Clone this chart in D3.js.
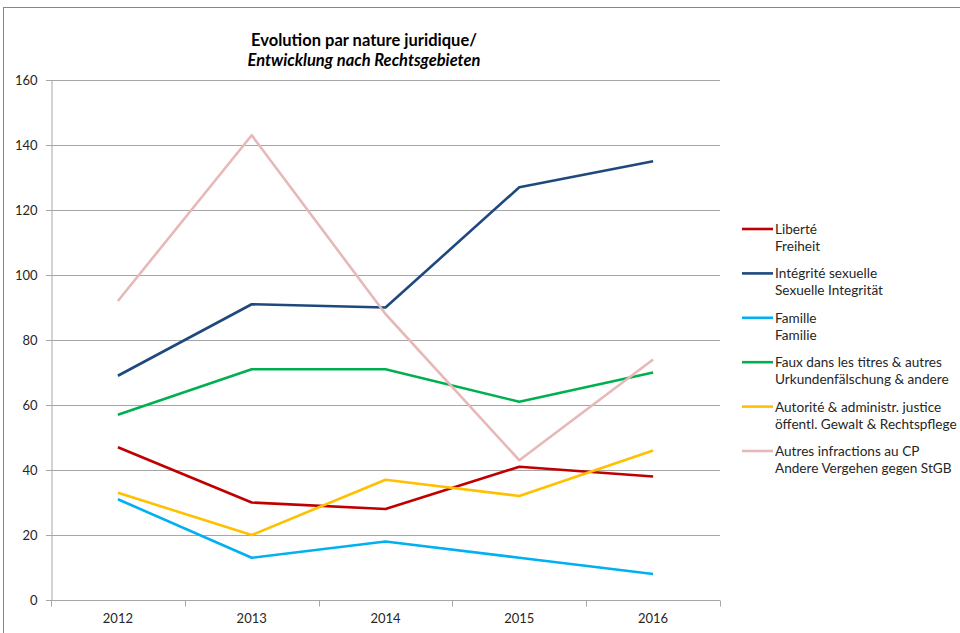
<!DOCTYPE html>
<html>
<head>
<meta charset="utf-8">
<script src="https://cdn.jsdelivr.net/npm/d3@7"></script>
<style>
  body { margin: 0; background: #fff; }
  text { font-family: Lato, "Open Sans", sans-serif; fill: #000; }
</style>
</head>
<body>
<svg class="chart"></svg>
<script>
// Data.
var years = ["2012", "2013", "2014", "2015", "2016"];
var yTicks = [0, 20, 40, 60, 80, 100, 120, 140, 160];

var liberte = [47, 30, 28, 41, 38];
var integrite = [69, 91, 90, 127, 135];
var famille = [31, 13, 18, 13, 8];
var faux = [57, 71, 71, 61, 70];
var autorite = [33, 20, 37, 32, 46];
var autres = [92, 143, 88, 43, 74];

var seriesNames = [
    ["Liberté", "Freiheit"],
    ["Intégrité sexuelle", "Sexuelle Integrität"],
    ["Famille", "Familie"],
    ["Faux dans les titres & autres", "Urkundenfälschung & andere"],
    ["Autorité & administr. justice", "öffentl. Gewalt & Rechtspflege"],
    ["Autres infractions au CP", "Andere Vergehen gegen StGB"]
];
var seriesColors = ["#C00000", "#1F497D", "#00B0F0", "#00B050", "#FFC000", "#E6B9B8"];
var seriesValues = [liberte, integrite, famille, faux, autorite, autres];

var width = 960, height = 633;
var plot = { left: 51, right: 720, top: 80, bottom: 600 };

var svg = d3.select("svg.chart")
    .attr("width", width)
    .attr("height", height);

// outer chart frame
svg.append("rect")
    .attr("x", 3.5).attr("y", 7.5)
    .attr("width", width).attr("height", height)
    .attr("fill", "none")
    .attr("stroke", "#868686");

var x = d3.scaleBand().domain(years).range([plot.left, plot.right]);
var y = d3.scaleLinear().domain([0, 160]).range([plot.bottom, plot.top]);

// gridlines
svg.append("g")
    .selectAll("line")
    .data(yTicks)
    .join("line")
    .attr("x1", plot.left - 5)
    .attr("x2", plot.right)
    .attr("y1", d => Math.round(y(d)) + 0.5)
    .attr("y2", d => Math.round(y(d)) + 0.5)
    .attr("stroke", "#A6A6A6");

// y axis
var yAxis = svg.append("g")
    .attr("transform", "translate(" + (plot.left + 0.5) + ",0)")
    .call(d3.axisLeft(y).tickValues(yTicks).tickSize(5).tickPadding(9));
yAxis.select(".domain").attr("stroke", "#A6A6A6");
yAxis.selectAll(".tick line").attr("stroke", "#A6A6A6");
yAxis.selectAll("text")
    .style("font-size", "13px")
    .style("fill", "#262626")
    .style("font-family", "Lato, sans-serif");

// x axis with category boundary ticks
var xAxis = svg.append("g")
    .attr("transform", "translate(0," + (plot.bottom + 0.5) + ")");
xAxis.append("line")
    .attr("x1", plot.left).attr("x2", plot.right)
    .attr("stroke", "#A6A6A6");
var bounds = years.map(d => x(d)).concat([x(years[years.length - 1]) + x.bandwidth()]);
xAxis.selectAll("line.bound")
    .data(bounds)
    .join("line")
    .attr("class", "bound")
    .attr("x1", d => Math.round(d) + 0.5)
    .attr("x2", d => Math.round(d) + 0.5)
    .attr("y1", 0).attr("y2", 6)
    .attr("stroke", "#A6A6A6");
xAxis.selectAll("text")
    .data(years)
    .join("text")
    .attr("x", d => x(d) + x.bandwidth() / 2)
    .attr("y", 22)
    .attr("text-anchor", "middle")
    .style("font-size", "13px")
    .style("fill", "#262626")
    .text(d => d);

// lines
var line = d3.line()
    .x((d, i) => x(years[i]) + x.bandwidth() / 2)
    .y(d => y(d));

svg.append("g")
    .selectAll("path")
    .data(seriesValues)
    .join("path")
    .attr("d", line)
    .attr("fill", "none")
    .attr("stroke", (d, i) => seriesColors[i])
    .attr("stroke-width", 2.6)
    .attr("stroke-linejoin", "round");

// title
var title = svg.append("text")
    .attr("x", 364)
    .attr("text-anchor", "middle")
    .style("font-size", "16.5px");
title.append("tspan").attr("x", 364).attr("y", 46)
    .style("font-weight", "bold")
    .text("Evolution par nature juridique/");
title.append("tspan").attr("x", 364).attr("y", 66)
    .style("font-weight", "bold")
    .style("font-style", "italic")
    .text("Entwicklung nach Rechtsgebieten");

// legend
var legend = svg.append("g")
    .selectAll("g")
    .data(seriesNames)
    .join("g")
    .attr("transform", (d, i) => "translate(742," + (229 + i * 44.4) + ")");
legend.append("line")
    .attr("x1", 0).attr("x2", 31)
    .attr("y1", 0).attr("y2", 0)
    .attr("stroke", (d, i) => seriesColors[i])
    .attr("stroke-width", 2.6);
legend.append("text")
    .attr("x", 33)
    .attr("y", 5)
    .style("font-size", "13.6px")
    .style("fill", "#262626")
    .text(d => d[0]);
legend.append("text")
    .attr("x", 33)
    .attr("y", 22)
    .style("font-size", "13.6px")
    .style("fill", "#262626")
    .text(d => d[1]);
</script>
</body>
</html>
